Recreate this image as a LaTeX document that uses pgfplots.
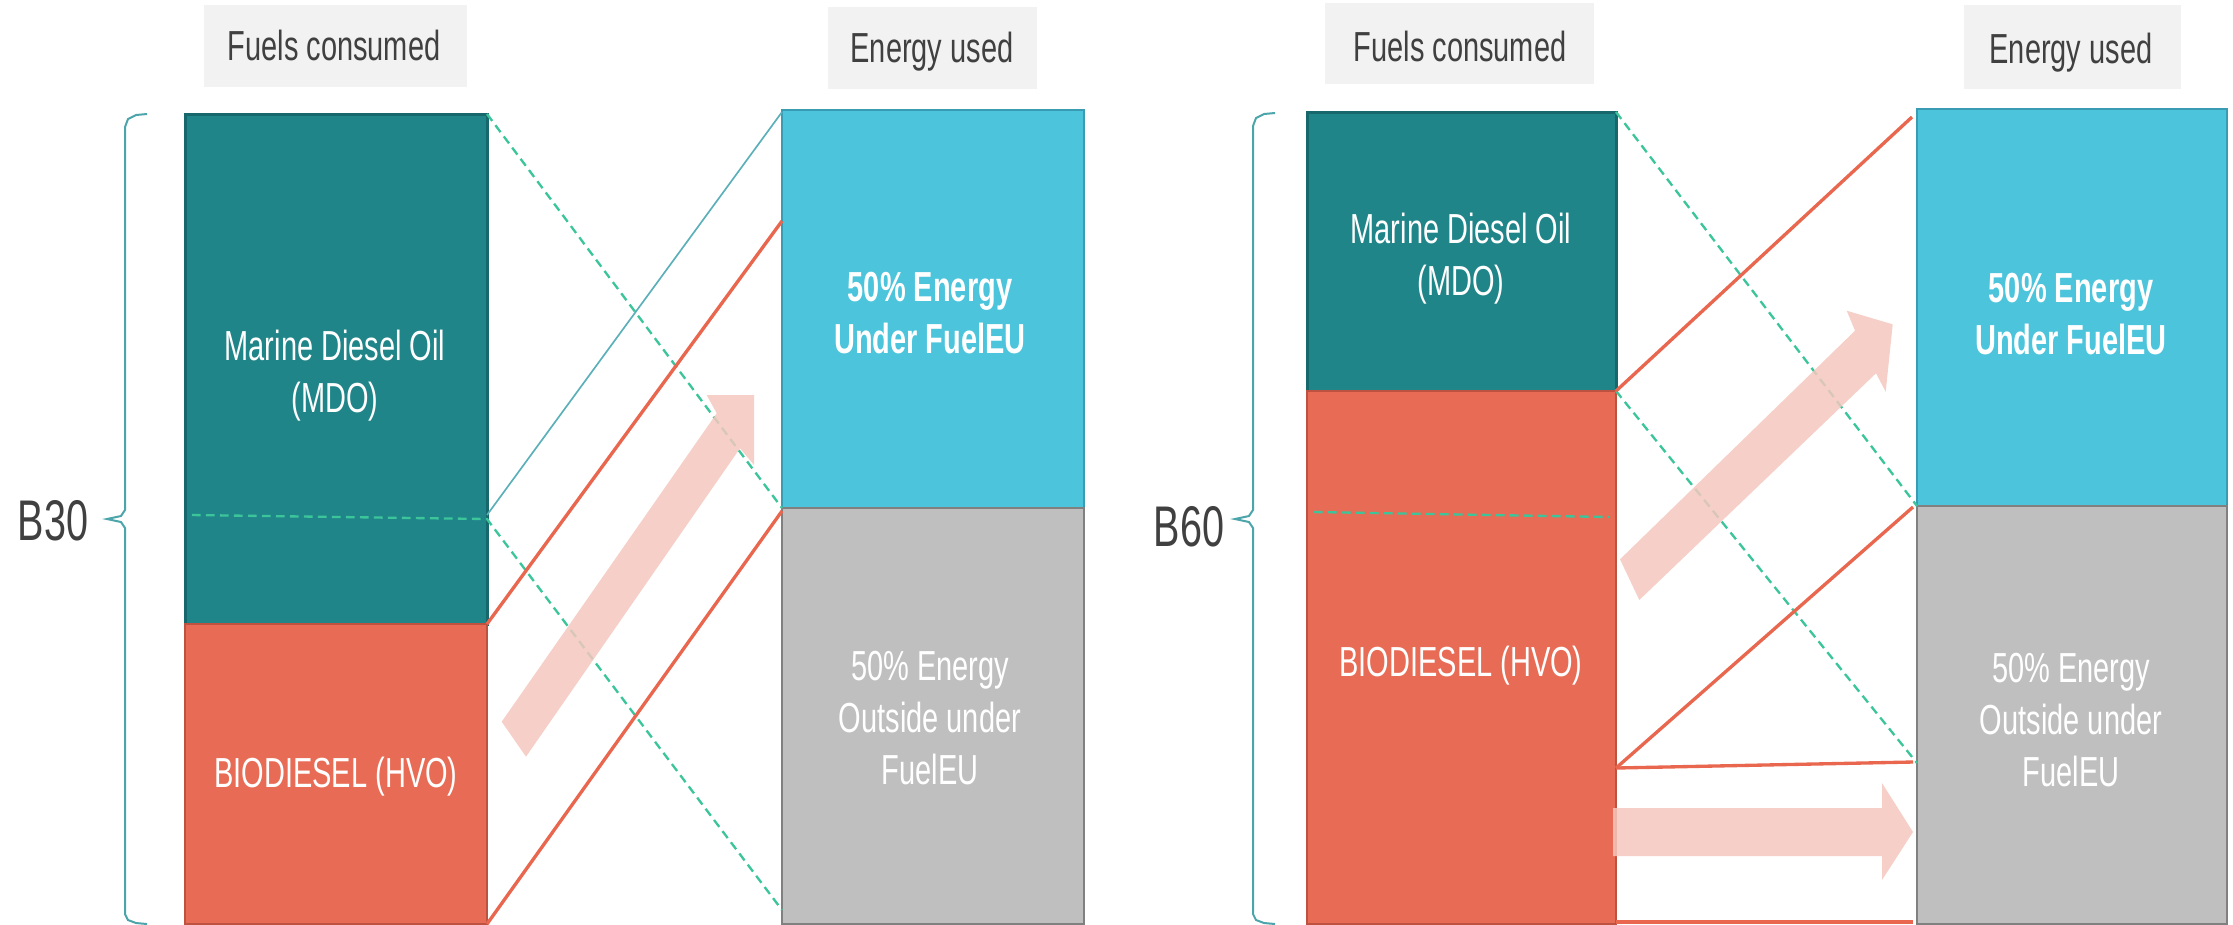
\documentclass[border=0pt]{standalone}
\usepackage{pgfplots}
\pgfplotsset{compat=1.18}
\usepackage{graphicx}
\usepackage{fontspec}
\setmainfont{Liberation Sans}
\definecolor{mdo}{HTML}{1F8589}
\definecolor{mdob}{HTML}{17686C}
\definecolor{hvo}{HTML}{E86C55}
\definecolor{hvob}{HTML}{BE5240}
\definecolor{blu}{HTML}{4BC4DC}
\definecolor{blub}{HTML}{3A9CB3}
\definecolor{gry}{HTML}{BFBFBF}
\definecolor{gryb}{HTML}{808080}
\definecolor{hdr}{HTML}{F2F2F2}
\definecolor{dark}{HTML}{404040}
\definecolor{brace}{HTML}{4BA5AA}
\definecolor{grn}{HTML}{3CC59A}
\definecolor{orl}{HTML}{E8674E}
\definecolor{tln}{HTML}{5BAFB8}
\definecolor{pink}{HTML}{F4C8BE}
\newcommand{\sq}[1]{\scalebox{0.69}[1]{#1}}
\tikzset{
  txt/.style={font=\fontsize{12.6}{15.6}\selectfont, text=white, inner sep=0pt},
  hd/.style={font=\fontsize{12.6}{15.6}\selectfont, text=dark, inner sep=0pt, anchor=base},
  gd/.style={grn, line width=0.7pt, dash pattern=on 2.6pt off 1.6pt},
  ol/.style={orl, line width=1.0pt},
  ar/.style={fill=pink, draw=none, fill opacity=0.85}}
\begin{document}
\begin{tikzpicture}
\begin{axis}[scale only axis, width=669.9pt, height=277.2pt,
  xmin=0, xmax=2233, ymin=0, ymax=924, y dir=reverse, hide axis, clip=false,
  no markers]
\addplot[draw=none] coordinates {(0,0) (2233,924)};
% ---------- header boxes
\addplot[fill=hdr, draw=none] coordinates {(204,5) (467,5) (467,87) (204,87)} --cycle;
\addplot[fill=hdr, draw=none] coordinates {(828,7) (1037,7) (1037,89) (828,89)} --cycle;
\addplot[fill=hdr, draw=none] coordinates {(1325,3) (1594,3) (1594,84) (1325,84)} --cycle;
\addplot[fill=hdr, draw=none] coordinates {(1964,5) (2181,5) (2181,89) (1964,89)} --cycle;
% ---------- B30 panel
\addplot[fill=mdo, draw=mdob, line width=0.9pt] coordinates {(185,114) (487,114) (487,624) (185,624)} --cycle;
\addplot[fill=hvo, draw=hvob, line width=0.7pt] coordinates {(185,624) (487,624) (487,924) (185,924)} --cycle;
\addplot[fill=blu, draw=blub, line width=0.7pt] coordinates {(782,110) (1084,110) (1084,508) (782,508)} --cycle;
\addplot[fill=gry, draw=gryb, line width=0.8pt] coordinates {(782,508) (1084,508) (1084,924) (782,924)} --cycle;
% ---------- B60 panel
\addplot[fill=mdo, draw=mdob, line width=0.9pt] coordinates {(1307,112) (1616,112) (1616,391) (1307,391)} --cycle;
\addplot[fill=hvo, draw=hvob, line width=0.7pt] coordinates {(1307,391) (1616,391) (1616,924) (1307,924)} --cycle;
\addplot[fill=blu, draw=blub, line width=0.7pt] coordinates {(1917,109) (2227,109) (2227,506) (1917,506)} --cycle;
\addplot[fill=gry, draw=gryb, line width=0.8pt] coordinates {(1917,506) (2227,506) (2227,924) (1917,924)} --cycle;
% ---------- braces
\addplot[brace, line width=0.6pt] coordinates {(147,114) (136,115) (128,119) (125,127) (125,510) (121,516) (107,519) (121,522) (125,528) (125,914) (128,920) (136,923) (147,924)};
\addplot[brace, line width=0.6pt] coordinates {(1275,113) (1264,114) (1256,118) (1253,126) (1253,510) (1249,516) (1235,519) (1249,522) (1253,528) (1253,914) (1256,920) (1264,923) (1275,924)};
% ---------- B30 connecting lines
\addplot[gd] coordinates {(487,114) (782,508)};
\addplot[gd] coordinates {(192,515) (487,519) (782,910)};
\addplot[tln, line width=0.5pt] coordinates {(487,515) (782,112)};
\addplot[ol] coordinates {(487,624) (782,221)};
\addplot[ol] coordinates {(487,924) (782,511)};
% ---------- B60 connecting lines
\addplot[gd] coordinates {(1616,112) (1917,506)};
\addplot[gd] coordinates {(1314,512) (1609,517)};
\addplot[gd] coordinates {(1616,391) (1917,763)};
\addplot[ol] coordinates {(1616,391) (1912,117)};
\addplot[ol] coordinates {(1616,768) (1913,507)};
\addplot[ol] coordinates {(1616,768) (1913,762)};
\addplot[ol] coordinates {(1616,922) (1913,922)};
% ---------- arrows
\addplot[ar] coordinates {(501.7,721.7) (716.7,413.3) (706.7,395) (754,395) (754,465) (740,448.3) (526,756.7)} --cycle;
\addplot[ar] coordinates {(1620,559.3) (1855,330.7) (1846.7,310.7) (1892.7,324.3) (1885.7,391.7) (1876,373.3) (1639.3,600)} --cycle;
\addplot[ar] coordinates {(1613,808) (1882,808) (1882,783) (1913,832) (1882,880) (1882,856) (1613,856)} --cycle;
% ---------- texts
\node[hd] at (axis cs:334,60) {\sq{Fuels consumed}};
\node[hd] at (axis cs:932,62) {\sq{Energy used}};
\node[hd] at (axis cs:1460,61) {\sq{Fuels consumed}};
\node[hd] at (axis cs:2071,63) {\sq{Energy used}};
\node[inner sep=0pt, anchor=base, text=dark, font=\fontsize{17.2}{20}\selectfont] at (axis cs:53,540) {\sq{B30}};
\node[inner sep=0pt, anchor=base, text=dark, font=\fontsize{17.2}{20}\selectfont] at (axis cs:1189,546) {\sq{B60}};
\node[txt] at (axis cs:335,376) {\sq{\begin{tabular}{@{}c@{}}Marine Diesel Oil\\(MDO)\end{tabular}}};
\node[txt, anchor=base] at (axis cs:336,787) {\sq{BIODIESEL (HVO)}};
\node[txt, font=\fontsize{12.6}{15.6}\selectfont\bfseries] at (axis cs:930,317) {\sq{\begin{tabular}{@{}c@{}}50\% Energy\\Under FuelEU\end{tabular}}};
\node[txt] at (axis cs:930,722) {\sq{\begin{tabular}{@{}c@{}}50\% Energy\\Outside under\\FuelEU\end{tabular}}};
\node[txt] at (axis cs:1461,259) {\sq{\begin{tabular}{@{}c@{}}Marine Diesel Oil\\(MDO)\end{tabular}}};
\node[txt, anchor=base] at (axis cs:1461,676) {\sq{BIODIESEL (HVO)}};
\node[txt, font=\fontsize{12.6}{15.6}\selectfont\bfseries] at (axis cs:2071,318) {\sq{\begin{tabular}{@{}c@{}}50\% Energy\\Under FuelEU\end{tabular}}};
\node[txt] at (axis cs:2071,724) {\sq{\begin{tabular}{@{}c@{}}50\% Energy\\Outside under\\FuelEU\end{tabular}}};
\end{axis}
\pgfresetboundingbox
\useasboundingbox (current axis.south west) rectangle (current axis.north east);
\end{tikzpicture}
\end{document}
